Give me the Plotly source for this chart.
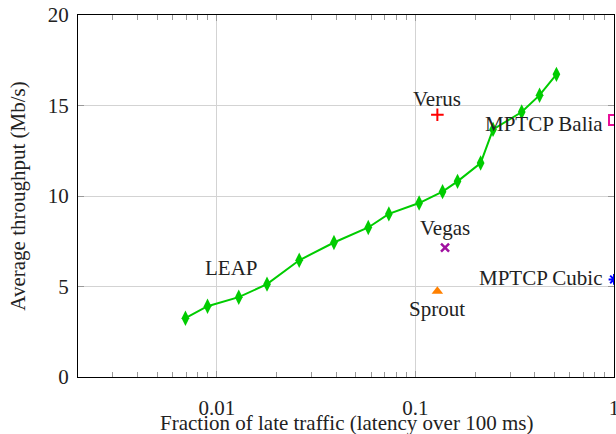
import math
import plotly.graph_objects as go

# LEAP curve
leap_x = [0.00695, 0.00898, 0.0129, 0.0179, 0.0260, 0.0389, 0.0579, 0.0735,
          0.1044, 0.137, 0.163, 0.213, 0.246, 0.343, 0.422, 0.513]
leap_y = [3.25, 3.91, 4.41, 5.13, 6.45, 7.43, 8.26, 9.01,
          9.61, 10.24, 10.81, 11.82, 13.68, 14.64, 15.57, 16.72]

# single-point schemes
verus_x, verus_y = [0.129], [14.49]
balia_x, balia_y = [1.0], [14.2]
vegas_x, vegas_y = [0.141], [7.15]
cubic_x, cubic_y = [1.0], [5.39]
sprout_x, sprout_y = [0.129], [4.74]

x_tick_vals = [0.01, 0.1, 1]
x_tick_text = ["0.01", "0.1", "1"]
y_tick_vals = [0, 5, 10, 15, 20]

FONT = "Times New Roman, Liberation Serif, serif"
FS = 21
TXT = "#222222"

fig = go.Figure()
fig.add_trace(go.Scatter(x=leap_x, y=leap_y, mode="lines+markers",
                         line=dict(color="#00cc00", width=2),
                         marker=dict(symbol="diamond-tall", size=11, color="#00cc00")))
fig.add_trace(go.Scatter(x=verus_x, y=verus_y, mode="markers",
                         marker=dict(symbol="cross-thin", size=9, line=dict(color="#ff0000", width=2))))
fig.add_trace(go.Scatter(x=balia_x, y=balia_y, mode="markers",
                         marker=dict(symbol="square-open", size=10, color="#e8109a",
                                     line=dict(color="#e8109a", width=2))))
fig.add_trace(go.Scatter(x=vegas_x, y=vegas_y, mode="markers",
                         marker=dict(symbol="x-thin", size=8, line=dict(color="#a010a0", width=2.5))))
fig.add_trace(go.Scatter(x=cubic_x, y=cubic_y, mode="markers",
                         marker=dict(symbol="asterisk", size=9, line=dict(color="#0000ff", width=2))))
fig.add_trace(go.Scatter(x=sprout_x, y=sprout_y, mode="markers",
                         marker=dict(symbol="triangle-up", size=10, color="#ff8000")))

ann = [
    dict(x=verus_x[0], y=verus_y[0], text="Verus", xanchor="center", yanchor="middle", yshift=16),
    dict(x=balia_x[0], y=balia_y[0], text="MPTCP Balia", xanchor="right", yanchor="middle", xshift=-9, yshift=-4),
    dict(x=vegas_x[0], y=vegas_y[0], text="Vegas", xanchor="center", yanchor="middle", yshift=20),
    dict(x=cubic_x[0], y=cubic_y[0], text="MPTCP Cubic", xanchor="right", yanchor="middle", xshift=-9, yshift=1),
    dict(x=sprout_x[0], y=sprout_y[0], text="Sprout", xanchor="center", yanchor="middle", yshift=-18),
    dict(x=leap_x[2], y=leap_y[2], text="LEAP", xanchor="center", yanchor="middle", xshift=-7, yshift=29),
]
for a in ann:
    a["x"] = math.log10(a["x"])
    a.update(showarrow=False, font=dict(family=FONT, size=FS, color=TXT))

# x-axis title placed as paper annotation
ann.append(dict(xref="paper", yref="paper", x=0.5, y=(377 - 423) / 362,
                text="Fraction of late traffic (latency over 100 ms)",
                xanchor="center", yanchor="middle", showarrow=False,
                font=dict(family=FONT, size=FS, color=TXT)))

minor_vals = [m * 10 ** e for e in (-3, -2, -1) for m in range(2, 10) if m * 10 ** e >= 0.0025]

fig.update_layout(
    width=616, height=434,
    margin=dict(l=78, r=2, t=15, b=57),
    paper_bgcolor="white", plot_bgcolor="white",
    showlegend=False,
    font=dict(family=FONT, size=FS, color=TXT),
    annotations=ann,
    xaxis=dict(type="log", range=[math.log10(0.002), 0], automargin=False,
               tickmode="array", tickvals=x_tick_vals, ticktext=x_tick_text,
               tickfont=dict(family=FONT, size=FS, color=TXT),
               ticklabeloverflow="allow",
               showline=True, linecolor="black", linewidth=1, mirror="ticks",
               ticks="inside", ticklen=6, tickcolor="#999999",
               showgrid=True, gridcolor="#d3d3d3", gridwidth=1, zeroline=False,
               minor=dict(tickmode="array", tickvals=minor_vals, ticks="inside",
                          ticklen=5, tickcolor="#999999", showgrid=False),
               ticklabelstandoff=12),
    yaxis=dict(range=[0, 20], tickmode="array", tickvals=y_tick_vals, automargin=False,
               tickfont=dict(family=FONT, size=FS, color=TXT),
               ticklabeloverflow="allow",
               showline=True, linecolor="black", linewidth=1, mirror="ticks",
               ticks="inside", ticklen=6, tickcolor="#999999",
               showgrid=True, gridcolor="#d3d3d3", gridwidth=1, zeroline=False,
               title=dict(text="Average throughput (Mb/s)", standoff=16,
                          font=dict(family=FONT, size=FS, color=TXT)),
               ticklabelstandoff=4),
)

fig.write_html("out.html", config={"displayModeBar": False},
               post_script="document.body.style.margin='0';document.body.style.padding='0';")
